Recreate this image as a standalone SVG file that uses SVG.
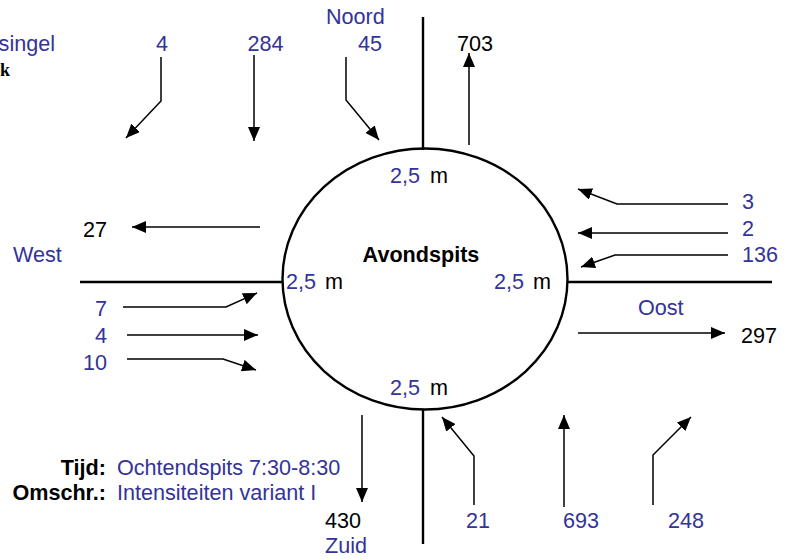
<svg xmlns="http://www.w3.org/2000/svg" width="785" height="559" viewBox="0 0 785 559">
<defs>
<marker id="ah" viewBox="0 0 14 12" refX="14" refY="6" markerWidth="14" markerHeight="12" markerUnits="userSpaceOnUse" orient="auto">
<path d="M0,0 L14,6 L0,12 z" fill="#000"/>
</marker>
<style>
text{font-family:"Liberation Sans",Arial,sans-serif;font-size:21.6px}
.b{fill:#333399}
.k{fill:#000}
.bold{font-weight:bold;fill:#000}
.road{stroke:#000;stroke-width:2.4;fill:none}
.arr{stroke:#000;stroke-width:1.5;fill:none;marker-end:url(#ah)}
.e{text-anchor:end}
.m{text-anchor:middle}
</style>
</defs>
<rect width="785" height="559" fill="#fff"/>
<g id="roads">
<line class="road" x1="423" y1="17" x2="423" y2="150"/>
<line class="road" x1="423" y1="409" x2="423" y2="544"/>
<line class="road" x1="80" y1="282" x2="283" y2="282"/>
<line class="road" x1="568" y1="282" x2="772" y2="282"/>
</g>
<g id="rotonde">
<ellipse class="road" cx="425" cy="279" rx="142.5" ry="130.5"/>
<text class="bold m" x="421" y="262">Avondspits</text>
<text class="b" x="390" y="183">2,5</text><text class="k" x="430" y="183">m</text>
<text class="b" x="286" y="289">2,5</text><text class="k" x="325" y="289">m</text>
<text class="b" x="494" y="289">2,5</text><text class="k" x="533" y="289">m</text>
<text class="b" x="390" y="395">2,5</text><text class="k" x="430" y="395">m</text>
</g>
<g id="connectors">
<polyline class="arr" points="161,57 161,101 126,138"/>
<polyline class="arr" points="254,55 254,141"/>
<polyline class="arr" points="346,57 346,100 379,140"/>
<polyline class="arr" points="469,145 469,53"/>
<polyline class="arr" points="728,204 617,204 578,189"/>
<polyline class="arr" points="728,233 578,233"/>
<polyline class="arr" points="728,255 615,255 581,267"/>
<polyline class="arr" points="578,333 725,333"/>
<polyline class="arr" points="260,227 132,227"/>
<polyline class="arr" points="123,307 226,307 257,293"/>
<polyline class="arr" points="127,335 258,335"/>
<polyline class="arr" points="127,359 223,359 256,370"/>
<polyline class="arr" points="362,415 362,502"/>
<polyline class="arr" points="474,505 474,456 442,417"/>
<polyline class="arr" points="564,507 564,415"/>
<polyline class="arr" points="653,505 653,455 691,417"/>
</g>
<g id="noord">
<text class="b" x="326" y="24">Noord</text>
<text class="b e" x="382" y="51">45</text>
<text class="b m" x="162" y="51">4</text>
<text class="b m" x="265.5" y="51">284</text>
<text class="k" x="457" y="51">703</text>
</g>
<g id="links-boven">
<text class="b e" x="55" y="51">singel</text>
<text x="0" y="76" style="font-family:'Liberation Serif','Times New Roman',serif;font-weight:bold;font-size:18px">k</text>
</g>
<g id="oost">
<text class="b" x="742" y="209">3</text>
<text class="b" x="742" y="236">2</text>
<text class="b" x="742" y="262">136</text>
<text class="b" x="638" y="315">Oost</text>
<text class="k" x="741" y="343">297</text>
</g>
<g id="west">
<text class="k" x="83" y="237">27</text>
<text class="b" x="13" y="262">West</text>
<text class="b e" x="107" y="316">7</text>
<text class="b e" x="107" y="343">4</text>
<text class="b e" x="107" y="370">10</text>
</g>
<g id="zuid">
<text class="k" x="325" y="528">430</text>
<text class="b" x="325" y="553">Zuid</text>
<text class="b" x="466" y="528">21</text>
<text class="b" x="563" y="528">693</text>
<text class="b" x="668" y="528">248</text>
</g>
<g id="legenda">
<text class="bold e" x="106" y="475">Tijd:</text>
<text class="bold e" x="106" y="500">Omschr.:</text>
<text class="b" x="117" y="475">Ochtendspits 7:30-8:30</text>
<text class="b" x="117" y="500">Intensiteiten variant I</text>
</g>
</svg>
